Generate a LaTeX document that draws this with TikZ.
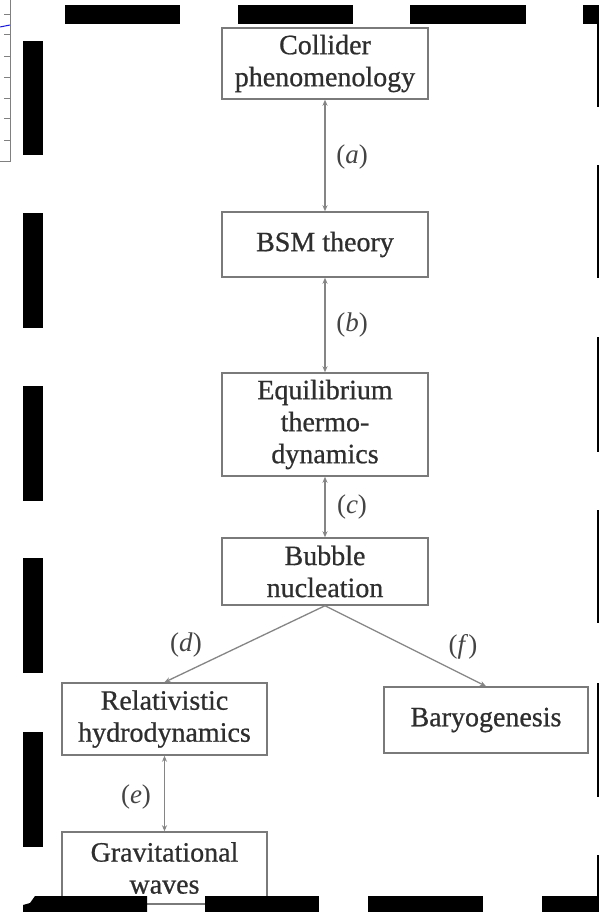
\documentclass[tikz,border=0pt]{standalone}
\usepackage{fontspec}
\setmainfont{Liberation Serif}
\newfontfamily\boxfont[FakeBold=0.7]{Liberation Serif}
\usetikzlibrary{arrows.meta}
\definecolor{boxline}{HTML}{7A7A7A}
\definecolor{txt}{HTML}{2E2E2E}
\definecolor{conn}{HTML}{858585}
\definecolor{lab}{HTML}{444444}
\definecolor{plotblue}{HTML}{1A1AE0}
\tikzset{
  fbox/.style={draw=boxline, line width=1.5pt, fill=white, inner sep=0pt, align=center,
    text=txt, font=\boxfont\fontsize{28}{32}\selectfont},
  conline/.style={draw=conn, line width=1.3pt},
  tipb/.style={conline, {Stealth[length=6pt,width=5pt]}-{Stealth[length=6pt,width=5pt]}},
  tipe/.style={conline, -{Stealth[length=6pt,width=5pt]}},
  lbl/.style={text=lab, font=\fontsize{27}{30}\selectfont, inner sep=0pt},
  bar/.style={fill=black, draw=none},
}
\begin{document}
\begin{tikzpicture}[x=1pt, y=-1pt]
\useasboundingbox[fill=white] (0,0) rectangle (599,912);

% plot fragment at top left
\draw[gray, line width=1pt] (10,0) -- (10,162) -- (0,162);
\foreach \yy in {15,35,57,78,99,119,141} \draw[gray, line width=1pt] (4,\yy) -- (10,\yy);
\draw[plotblue, line width=1pt] (0,27) -- (10,25);

% black mask bars
\fill[bar] (65,5) rectangle (180,24);
\fill[bar] (238,5) rectangle (353,24);
\fill[bar] (410,5) rectangle (526,24);
\fill[bar] (583,5) rectangle (599,24);
\fill[bar] (597,24) rectangle (599,107);
\fill[bar] (597,165) rectangle (599,278);
\fill[bar] (597,337) rectangle (599,452);
\fill[bar] (597,510) rectangle (599,623);
\fill[bar] (597,683) rectangle (599,797);
\fill[bar] (597,855) rectangle (599,912);
\foreach \ya/\yb in {41/155,213/328,386/501,558/673,732/847}
  \fill[bar] (23,\ya) rectangle (43,\yb);

% boxes
\node[fbox, minimum width=206pt, minimum height=71pt] (col) at (325,63.5) {Collider\\phenomenology};
\node[fbox, minimum width=206pt, minimum height=65pt] (bsm) at (325,244.5) {BSM theory};
\node[fbox, minimum width=206pt, minimum height=103pt] (eq) at (325,424.5) {Equilibrium\\thermo-\\dynamics};
\node[fbox, minimum width=206pt, minimum height=67pt] (bub) at (325,571.5) {Bubble\\nucleation};
\node[fbox, minimum width=205pt, minimum height=72pt] (rel) at (164.5,719) {Relativistic\\hydrodynamics};
\node[fbox, minimum width=204pt, minimum height=66pt] (bar) at (486,720) {Baryogenesis};
\node[fbox, minimum width=205pt, minimum height=72pt] (grav) at (164.5,868) {Gravitational\\waves};

% connectors
\draw[tipb] (col.south) -- (bsm.north);
\draw[tipb] (bsm.south) -- (eq.north);
\draw[tipb] (eq.south) -- (bub.north);
\draw[tipe] (bub.south) -- (rel.north);
\draw[tipe] (bub.south) -- (bar.north);
\draw[tipb] (rel.south) -- (grav.north);

% labels
\node[lbl] (la) at (352,157) {(\textit{a})};
\node[lbl] (lb) at (352,325) {(\textit{b})};
\node[lbl] (lc) at (352,507) {(\textit{c})};
\node[lbl] (ld) at (186,645) {(\textit{d})};
\node[lbl] (le) at (136,797) {(\textit{e})};
\node[lbl] (lf) at (463,647) {(\textit{f})};

% bottom bars drawn last (cover the lowest box)
\fill[bar] (23,912) -- (23,905) -- (30,903) -- (35,896) -- (147,896) -- (147,912) -- cycle;
\fill[bar] (205,896) rectangle (319,912);
\fill[bar] (368,896) rectangle (483,912);
\fill[bar] (542,896) rectangle (599,912);
\end{tikzpicture}
\end{document}
